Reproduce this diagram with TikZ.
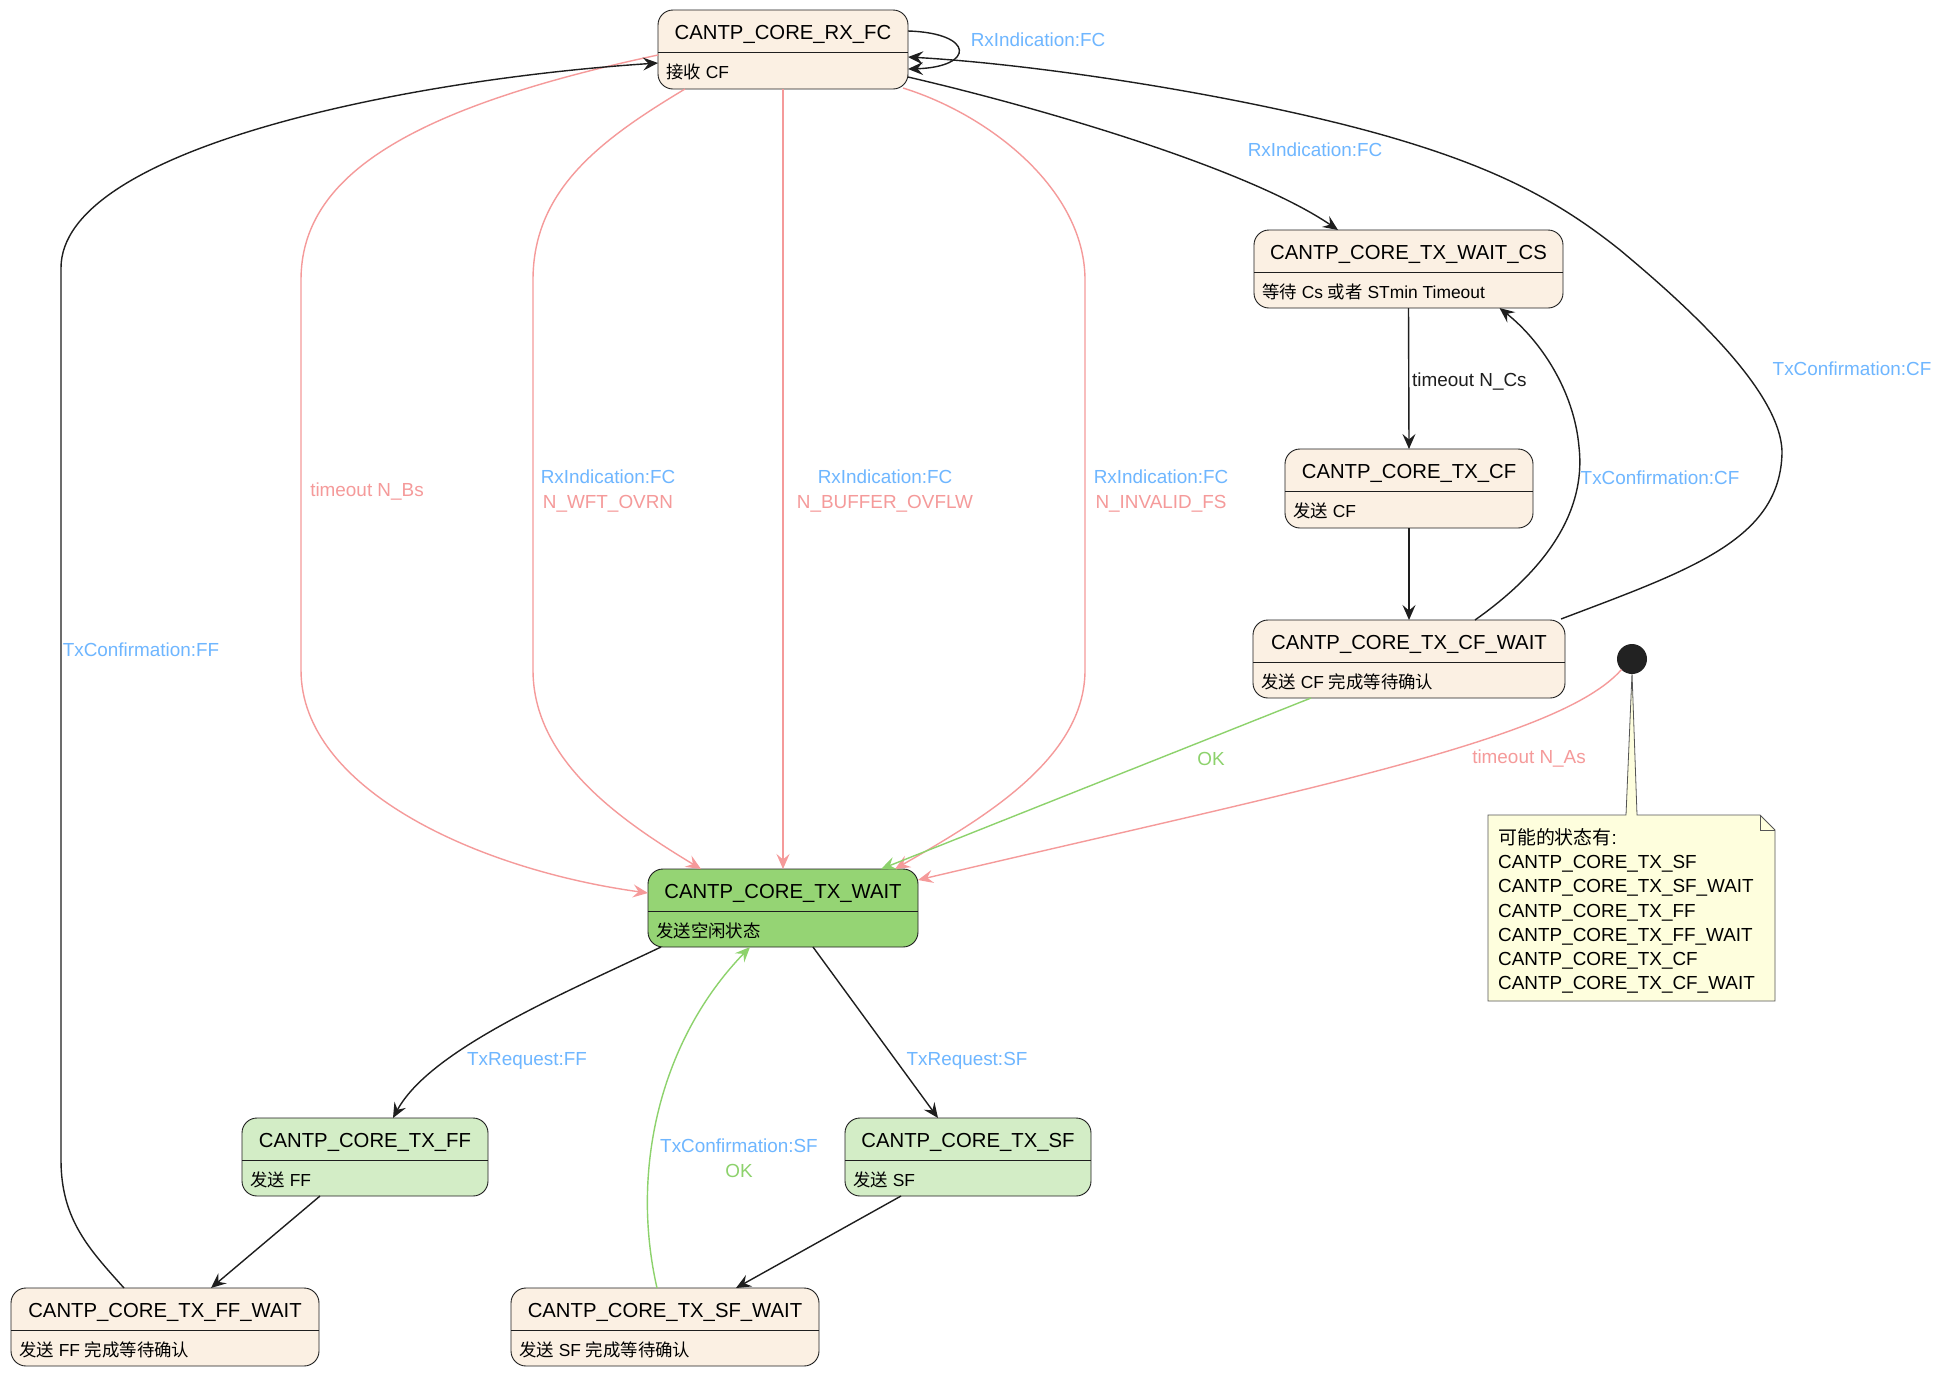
\documentclass[tikz,border=0pt]{standalone}
\usepackage{fontspec}
\setmainfont{Liberation Sans}
\newfontfamily\cjk{Noto Sans CJK SC}
\usetikzlibrary{arrows.meta,calc}
\definecolor{stbeige}{HTML}{FBF0E3}
\definecolor{stgreen}{HTML}{95D474}
\definecolor{stlgreen}{HTML}{D3EDC6}
\definecolor{notey}{HTML}{FEFEDD}
\definecolor{redc}{HTML}{F59A9A}
\definecolor{bluec}{HTML}{6EB6FF}
\definecolor{greenc}{HTML}{8DD26C}
\definecolor{boxline}{HTML}{1E1E1E}
\definecolor{dotc}{HTML}{222222}
\definecolor{noteline}{HTML}{555555}
\tikzset{
  statebox/.style={draw=boxline, line width=0.9pt, rounded corners=15pt, inner sep=0pt, outer sep=0pt},
  divline/.style={draw=boxline, line width=0.9pt},
  ttl/.style={font=\fontsize{20.3pt}{24pt}\selectfont, inner sep=0pt, anchor=base},
  bdy/.style={font=\fontsize{17.4pt}{21pt}\selectfont, inner sep=0pt, anchor=base west},
  lbl/.style={font=\fontsize{18.9pt}{25pt}\selectfont, inner sep=0pt, align=center},
  tr/.style={line width=1.4pt, -{Stealth[length=15pt,width=13pt,inset=5.5pt]}},
  blk/.style={tr, draw=boxline},
  rd/.style={tr, draw=redc},
  gn/.style={tr, draw=greenc},
}
\newcommand\mkstate[8]{%
  \node[statebox, fill=#6, minimum width={(#4-#2)*1pt}, minimum height={(#5-#3)*1pt}] (#1) at ({(#2+#4)/2},{(#3+#5)/2}) {};
  \draw[divline] (#2,#3+42) -- (#4,#3+42);
  \node[ttl] (#1-t) at ({(#2+#4)/2},#3+29) {#7};
  \node[bdy] (#1-b) at (#2+8,#3+68) {#8};
}
\begin{document}
\begin{tikzpicture}[x=1pt,y=-1pt]
\useasboundingbox (0,0) rectangle (1943,1374);
\fill[white] (0,0) rectangle (1943,1374);

% note
\draw[fill=notey, draw=noteline, line width=0.8pt] (1488,815) -- (1626,815) -- (1632,673) -- (1637,815) -- (1760,815) -- (1775,830) -- (1775,1001) -- (1488,1001) -- cycle;
\draw[draw=noteline, line width=0.8pt] (1760,815) -- (1760,830) -- (1775,830);
\node[font=\fontsize{18.9pt}{24.3pt}\selectfont, inner sep=0pt, align=left, anchor=north west] (note) at (1498,828)
 {{\cjk 可能的状态有}:\\CANTP\_CORE\_TX\_SF\\CANTP\_CORE\_TX\_SF\_WAIT\\CANTP\_CORE\_TX\_FF\\CANTP\_CORE\_TX\_FF\_WAIT\\CANTP\_CORE\_TX\_CF\\CANTP\_CORE\_TX\_CF\_WAIT};

% initial state
\node[circle, fill=dotc, minimum size=30pt, inner sep=0pt, outer sep=0pt] (init) at (1632,659) {};

% states
\mkstate{rxfc}{658}{10}{908}{89}{stbeige}{CANTP\_CORE\_RX\_FC}{{\cjk 接收} CF}
\mkstate{waitcs}{1254}{230}{1563}{308}{stbeige}{CANTP\_CORE\_TX\_WAIT\_CS}{{\cjk 等待} Cs {\cjk 或者} STmin Timeout}
\mkstate{txcf}{1285}{449}{1533}{528}{stbeige}{CANTP\_CORE\_TX\_CF}{{\cjk 发送} CF}
\mkstate{cfwait}{1253}{620}{1565}{698}{stbeige}{CANTP\_CORE\_TX\_CF\_WAIT}{{\cjk 发送} CF {\cjk 完成等待确认}}
\mkstate{txwait}{648}{869}{918}{947}{stgreen}{CANTP\_CORE\_TX\_WAIT}{{\cjk 发送空闲状态}}
\mkstate{txff}{242}{1118}{488}{1196}{stlgreen}{CANTP\_CORE\_TX\_FF}{{\cjk 发送} FF}
\mkstate{txsf}{845}{1118}{1091}{1196}{stlgreen}{CANTP\_CORE\_TX\_SF}{{\cjk 发送} SF}
\mkstate{ffwait}{11}{1288}{319}{1366}{stbeige}{CANTP\_CORE\_TX\_FF\_WAIT}{{\cjk 发送} FF {\cjk 完成等待确认}}
\mkstate{sfwait}{511}{1288}{819}{1366}{stbeige}{CANTP\_CORE\_TX\_SF\_WAIT}{{\cjk 发送} SF {\cjk 完成等待确认}}

% self loop on RX_FC
\draw[blk] ($(rxfc.north east)+(0,21)$) .. controls (975,33) and (975,67) .. ($(rxfc.north east)+(0,59)$);
\node[lbl, text=bluec] (l-self) at (1038,40) {RxIndication:FC};

% RX_FC -> TX_WAIT_CS
\draw[blk] ($(rxfc.south east)+(0,-12)$) .. controls (1050,110) and (1250,170) .. ($(waitcs.north west)+(84,0)$);
\node[lbl, text=bluec] (l-rxcs) at (1315,150) {RxIndication:FC};

% TX_CF_WAIT -> RX_FC (outer)
\draw[blk] ($(cfwait.north east)+(-4,-1)$) .. controls (1690,570) and (1780,540) .. (1782,453)
  .. controls (1782,390) and (1680,300) .. (1620,250)
  .. controls (1560,202) and (1500,170) .. (1400,140)
  .. controls (1267,100) and (1050,65) .. ($(rxfc.north east)+(0,47)$);
\node[lbl, text=bluec] (l-outer) at (1852,369) {TxConfirmation:CF};

% TX_WAIT_CS -> TX_CF
\draw[blk] (waitcs.south) -- (txcf.north);
\node[lbl, text=boxline, anchor=west] (l-ncs) at (1412,382) {timeout N\_Cs};

% TX_CF -> TX_CF_WAIT
\draw[blk] (txcf.south) -- (cfwait.north);

% TX_CF_WAIT -> TX_WAIT_CS (inner)
\draw[blk] ($(cfwait.north)+(66,0)$) .. controls (1560,560) and (1585,500) .. (1579,447)
  .. controls (1574,390) and (1540,340) .. ($(waitcs.south)+(91,0)$);
\node[lbl, text=bluec] (l-inner) at (1660,478) {TxConfirmation:CF};

% RX_FC -> TX_WAIT : timeout N_Bs
\draw[rd] ($(rxfc.north west)+(0,45)$) .. controls (400,110) and (301,180) .. (301,280) -- (301,670)
  .. controls (301,790) and (480,870) .. ($(txwait.north west)+(0,24)$);
\node[lbl, text=redc] (l-nbs) at (367,492) {timeout N\_Bs};

% RX_FC -> TX_WAIT : N_WFT_OVRN
\draw[rd] ($(rxfc.south west)+(27,0)$) .. controls (600,140) and (533,190) .. (533,280) -- (533,670)
  .. controls (533,760) and (620,820) .. ($(txwait.north west)+(53,0)$);
\node[lbl] (l-wft) at (608,491) {\textcolor{bluec}{RxIndication:FC}\\\textcolor{redc}{N\_WFT\_OVRN}};

% RX_FC -> TX_WAIT : N_BUFFER_OVFLW
\draw[rd] (rxfc.south) -- (txwait.north);
\node[lbl] (l-buf) at (885,491) {\textcolor{bluec}{RxIndication:FC}\\\textcolor{redc}{N\_BUFFER\_OVFLW}};

% RX_FC -> TX_WAIT : N_INVALID_FS
\draw[rd] ($(rxfc.south east)+(-5,-1)$) .. controls (990,115) and (1085,190) .. (1085,280) -- (1085,670)
  .. controls (1085,760) and (980,820) .. ($(txwait.north east)+(-23,0)$);
\node[lbl] (l-inv) at (1161,491) {\textcolor{bluec}{RxIndication:FC}\\\textcolor{redc}{N\_INVALID\_FS}};

% TX_CF_WAIT -> TX_WAIT : OK
\draw[gn] ($(cfwait.south west)+(58,0)$) -- ($(txwait.north east)+(-37,0)$);
\node[lbl, text=greenc] (l-ok) at (1211,759) {OK};

% initial -> TX_WAIT : timeout N_As
\draw[rd] (init.225) .. controls (1560,740) and (1300,790) .. ($(txwait.north east)+(0,11)$);
\node[lbl, text=redc] (l-nas) at (1529,759) {timeout N\_As};

% TX_WAIT -> TX_FF
\draw[blk] ($(txwait.south west)+(13,0)$) .. controls (560,995) and (430,1050) .. ($(txff.north west)+(151,0)$);
\node[lbl, text=bluec] (l-reqff) at (527,1061) {TxRequest:FF};

% TX_WAIT -> TX_SF
\draw[blk] ($(txwait.south west)+(165,0)$) -- ($(txsf.north west)+(93,0)$);
\node[lbl, text=bluec] (l-reqsf) at (967,1061) {TxRequest:SF};

% TX_FF -> TX_FF_WAIT
\draw[blk] ($(txff.south west)+(78,0)$) -- ($(ffwait.north west)+(200,0)$);

% TX_SF -> TX_SF_WAIT
\draw[blk] ($(txsf.south west)+(56,0)$) -- ($(sfwait.north west)+(225,0)$);

% TX_SF_WAIT -> TX_WAIT : TxConfirmation:SF / OK
\draw[gn] ($(sfwait.north west)+(146,0)$) .. controls (630,1170) and (660,1040) .. ($(txwait.south west)+(102,0)$);
\node[lbl] (l-cfsf) at (739,1158) {\textcolor{bluec}{TxConfirmation:SF}\\\textcolor{greenc}{OK}};

% TX_FF_WAIT -> RX_FC : TxConfirmation:FF
\draw[blk] ($(ffwait.north west)+(113,0)$) .. controls (90,1250) and (61,1220) .. (61,1160) -- (61,268)
  .. controls (61,150) and (400,80) .. ($(rxfc.north west)+(0,53)$);
\node[lbl, text=bluec] (l-cfff) at (141,650) {TxConfirmation:FF};

\end{tikzpicture}
\end{document}
